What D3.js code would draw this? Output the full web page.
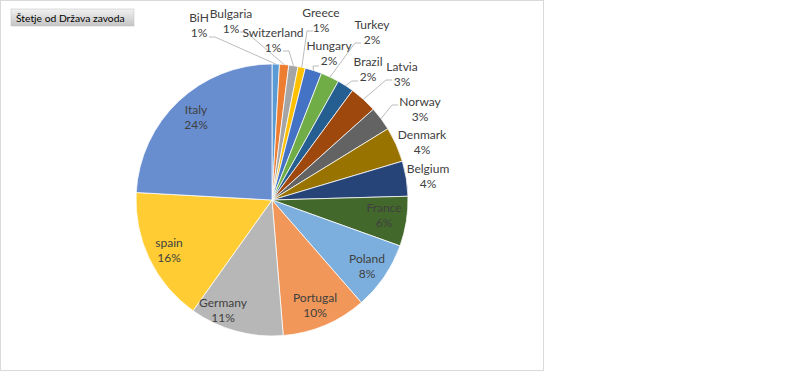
<!DOCTYPE html>
<html>
<head>
<meta charset="utf-8">
<script src="https://cdn.jsdelivr.net/npm/d3@7"></script>
<style>
  body { margin: 0; background: #fff; }
  svg { font-family: Lato, "Open Sans", sans-serif; }
  .lbl { fill: #404040; font-size: 12px; }
</style>
</head>
<body>
<div id="viz"></div>
<script>
// data (counts, clockwise from 12 o'clock)
var countries = ["BiH", "Bulgaria", "Switzerland", "Greece", "Hungary", "Turkey", "Brazil", "Latvia",
                 "Norway", "Denmark", "Belgium", "France", "Poland", "Portugal", "Germany", "spain", "Italy"];
var counts = [4, 5, 5, 4, 9, 10, 9, 15, 13, 19, 19, 27, 37, 46, 51, 73, 110];
var colors = ["#5B9BD5", "#ED7D31", "#A5A5A5", "#FFC000", "#4472C4", "#70AD47", "#255E91", "#9E480E",
              "#636363", "#997300", "#264478", "#43682B", "#7CAFDD", "#F1975A", "#B7B7B7", "#FFCD33", "#698ED0"];
var title = "Štetje od Država zavoda";

var width = 800, height = 372;
var cx = 272, cy = 200, r = 136;

// label layout: [x, y of name line] and optional leader start [x, y]
var labelPos = {
  "BiH":         {x: 199, y: 18, lead: [209, 37]},
  "Bulgaria":    {x: 231, y: 14, lead: [240, 32]},
  "Switzerland": {x: 273, y: 33, lead: [283, 51]},
  "Greece":      {x: 321, y: 13, lead: [313, 31]},
  "Hungary":     {x: 329, y: 46, lead: [319, 66]},
  "Turkey":      {x: 372, y: 25, lead: [361, 43]},
  "Brazil":      {x: 368, y: 62, lead: [358, 81]},
  "Latvia":      {x: 402, y: 67, lead: [392, 80]},
  "Norway":      {x: 420, y: 102, lead: [398, 105]},
  "Denmark":     {x: 422, y: 135},
  "Belgium":     {x: 428, y: 169},
  "France":      {x: 384, y: 208},
  "Poland":      {x: 367, y: 259},
  "Portugal":    {x: 315, y: 298},
  "Germany":     {x: 223, y: 303},
  "spain":       {x: 169, y: 243},
  "Italy":       {x: 196, y: 110}
};

var total = d3.sum(counts);
var pct = d3.format(".0%");

var data = countries.map(function(c, i) { return {name: c, value: counts[i], color: colors[i]}; });

var svg = d3.select("#viz").append("svg")
    .attr("width", width)
    .attr("height", height);

// chart area border
svg.append("rect")
    .attr("x", 0.5).attr("y", 0.5)
    .attr("width", 543).attr("height", 370)
    .attr("fill", "#fff")
    .attr("stroke", "#d9d9d9");

// title button
var defs = svg.append("defs");
var grad = defs.append("linearGradient").attr("id", "btn").attr("x1", 0).attr("y1", 0).attr("x2", 0).attr("y2", 1);
grad.append("stop").attr("offset", "0%").attr("stop-color", "#f2f2f2");
grad.append("stop").attr("offset", "100%").attr("stop-color", "#c4c4c4");

svg.append("rect")
    .attr("x", 11).attr("y", 9)
    .attr("width", 123).attr("height", 17)
    .attr("fill", "url(#btn)")
    .attr("stroke", "#bfbfbf")
    .attr("stroke-width", 0.5);
svg.append("text")
    .attr("x", 16).attr("y", 21.5)
    .style("font-size", "10.3px")
    .attr("fill", "#000")
    .text(title);

var pie = d3.pie().sort(null).value(function(d) { return d.value; });
var arc = d3.arc().innerRadius(0).outerRadius(r);
var arcs = pie(data);

var g = svg.append("g").attr("transform", "translate(" + cx + "," + cy + ")");

g.selectAll("path.slice")
    .data(arcs)
  .enter().append("path")
    .attr("class", "slice")
    .attr("d", arc)
    .attr("fill", function(d) { return d.data.color; })
    .attr("stroke", "#fff")
    .attr("stroke-width", 0.75);

// leader lines
arcs.forEach(function(d) {
  var p = labelPos[d.data.name];
  if (!p.lead) return;
  var mid = (d.startAngle + d.endAngle) / 2;
  var ex = cx + Math.sin(mid) * r, ey = cy - Math.cos(mid) * r;
  var sx = p.lead[0], sy = p.lead[1];
  var stub = ex > sx ? 6 : -6;
  svg.append("polyline")
      .attr("points", [[sx, sy], [sx + stub, sy], [ex, ey]].map(function(q) { return q.join(","); }).join(" "))
      .attr("fill", "none")
      .attr("stroke", "#a6a6a6")
      .attr("stroke-width", 0.75);
});

// labels
arcs.forEach(function(d) {
  var p = labelPos[d.data.name];
  var t = svg.append("text")
      .attr("class", "lbl")
      .attr("text-anchor", "middle");
  t.append("tspan").attr("x", p.x).attr("y", p.y + 4).text(d.data.name);
  t.append("tspan").attr("x", p.x).attr("y", p.y + 18.5).text(pct(d.data.value / total));
});
</script>
</body>
</html>
